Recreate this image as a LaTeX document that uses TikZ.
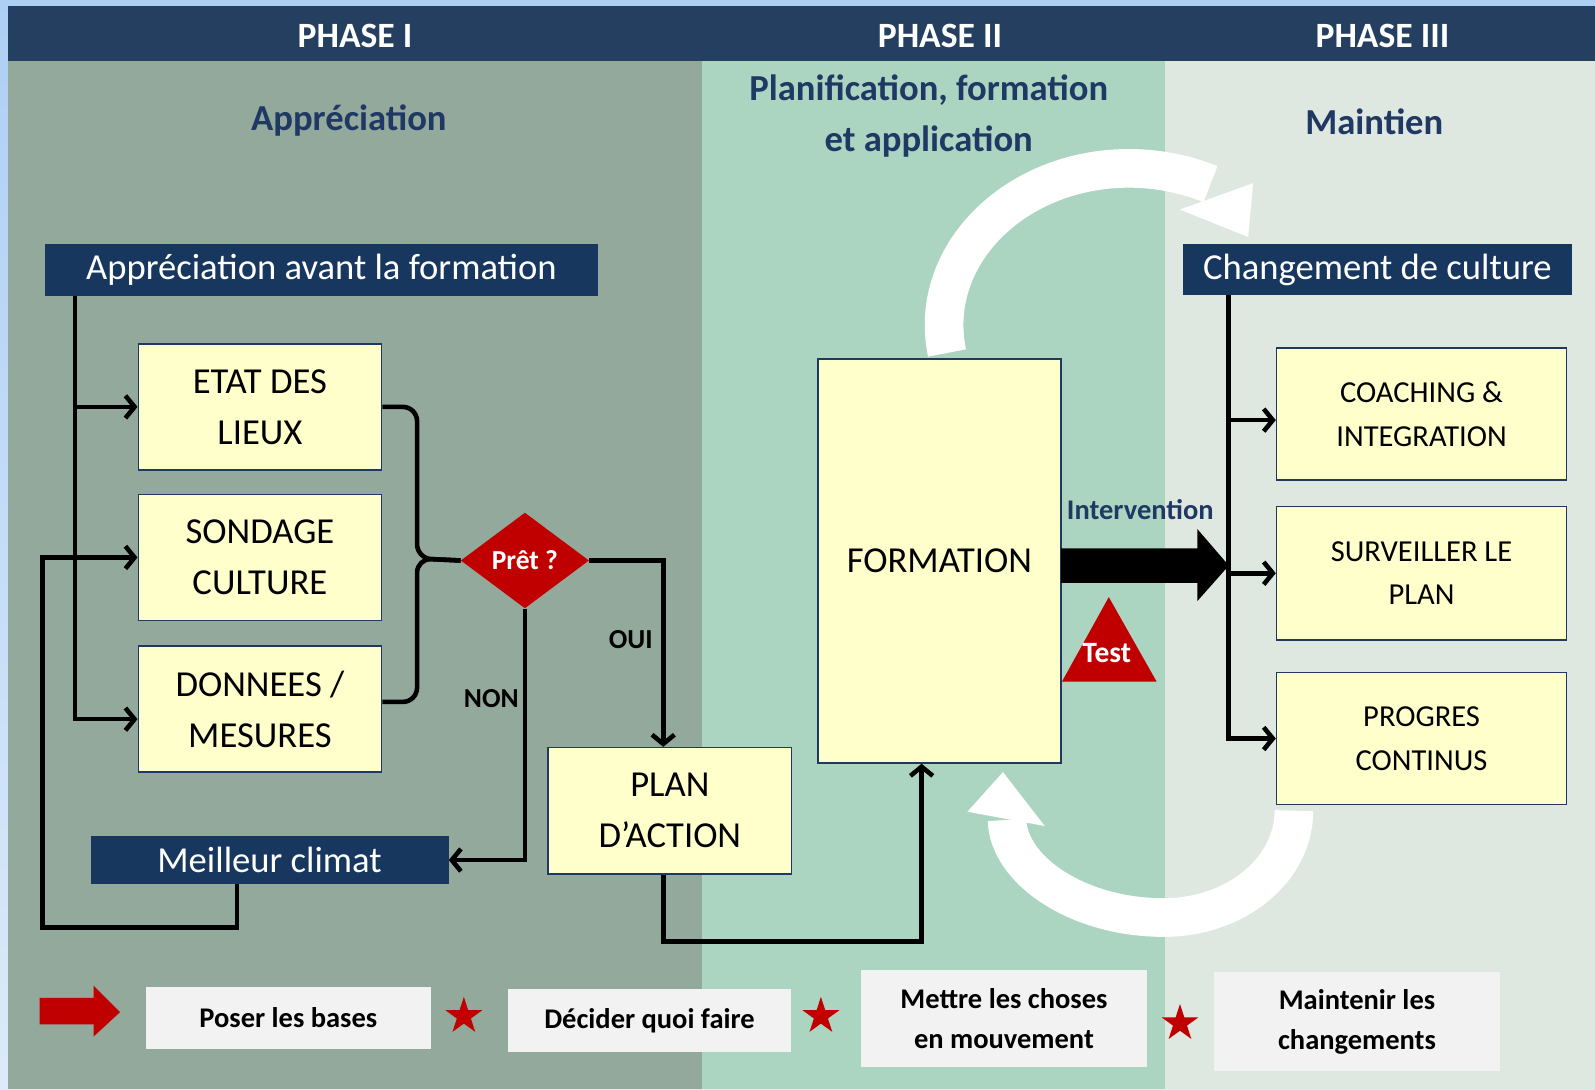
\documentclass[tikz,border=0pt]{standalone}
\usepackage{fontspec}
\setmainfont{Carlito}
\usetikzlibrary{arrows.meta,shapes.geometric,calc}
\definecolor{skyedge}{HTML}{AECFF4}
\definecolor{skyedgeb}{HTML}{DCEAF9}
\definecolor{headbar}{HTML}{243F60}
\definecolor{phaseone}{HTML}{92A99B}
\definecolor{phasetwo}{HTML}{ABD5C0}
\definecolor{phasethree}{HTML}{DEE8E0}
\definecolor{banner}{HTML}{17375E}
\definecolor{subtitle}{HTML}{1F3864}
\definecolor{boxfill}{HTML}{FFFFCC}
\definecolor{boxline}{HTML}{1F3864}
\definecolor{alert}{HTML}{C00000}
\definecolor{legendfill}{HTML}{F2F2F2}
\newcommand{\fsz}[2]{\fontsize{#1}{#2}\selectfont}
\begin{document}
\begin{tikzpicture}[x=1pt,y=-1pt,
  ybox/.style={draw=boxline, line width=1.6pt, fill=boxfill, inner sep=0pt, align=center, text=black},
  bannerbox/.style={fill=banner, inner sep=0pt, text=white, font=\fsz{36}{40}},
  legendbox/.style={fill=legendfill, inner sep=0pt, align=center, font=\bfseries\fsz{28}{40}},
  conn/.style={line width=4.5pt, draw=black},
  arr/.style={conn, -{Straight Barb[length=9pt,width=22pt]}},
  redstar/.style={star, star points=5, star point ratio=2.618, fill=alert, draw=none, inner sep=0pt, minimum size=38pt},
  whiteband/.style={draw=white, line width=38pt},
  headtext/.style={text=white, font=\bfseries\fsz{35}{40}},
  subtext/.style={text=subtitle, font=\bfseries\fsz{36}{51}, align=center},
]
\useasboundingbox (0,0) rectangle (1568,1071);
% backgrounds
\fill[top color=skyedge, bottom color=skyedgeb] (0,0) rectangle (1568,1071);
\fill[headbar] (7.5,5.5) rectangle (1568,60);
\fill[phaseone] (7.5,60) rectangle (690,1071);
\fill[phasetwo] (690,60) rectangle (1145,1071);
\fill[phasethree] (1145,60) rectangle (1568,1071);

% headers
\node[headtext] (ph1) at (349,35) {PHASE I};
\node[headtext] (ph2) at (924,35) {PHASE II};
\node[headtext] (ph3) at (1359,35) {PHASE III};
\node[subtext] (sub1) at (343,118) {Appréciation};
\node[subtext] (sub2) at (913,114) {Planification, formation\\et application};
\node[subtext] (sub3) at (1351,120) {Maintien};

% white cycle arrows
\draw[whiteband] (931,347) .. controls (911,252) and (997,165.5) .. (1110,165.5) .. controls (1138,165.5) and (1165,171) .. (1190,181);
\fill[white] (1160,206) -- (1232,180) -- (1227,233) -- cycle;
\draw[whiteband] (1272,797) .. controls (1272,855) and (1215,902) .. (1144,902) .. controls (1059,902) and (991,855) .. (990,806);
\fill[white] (951,798) -- (986,759) -- (1027,812) -- cycle;

% banners
\node[bannerbox, minimum width=544pt, minimum height=51pt] (ban1) at (316,265.5) {Appréciation avant la formation};
\node[bannerbox, minimum width=382pt, minimum height=50pt] (ban2) at (1354,265) {Changement de culture};
\node[bannerbox, minimum width=352pt, minimum height=47pt] (ban3) at (265,845.5) {Meilleur climat};

% boxes
\node[ybox, minimum width=239pt, minimum height=124pt, font=\fsz{36}{50}] (etat) at (255.5,400) {ETAT DES\\LIEUX};
\node[ybox, minimum width=239pt, minimum height=124pt, font=\fsz{36}{50}] (sond) at (255.5,548) {SONDAGE\\CULTURE};
\node[ybox, minimum width=239pt, minimum height=124pt, font=\fsz{36}{50}] (donn) at (255.5,697) {DONNEES /\\MESURES};
\node[ybox, minimum width=239pt, minimum height=124pt, font=\fsz{36}{50}] (plan) at (658.5,797) {PLAN\\D’ACTION};
\node[ybox, minimum width=239pt, minimum height=397pt, font=\fsz{36}{40}] (form) at (923.5,551.5) {FORMATION};
\node[ybox, minimum width=285pt, minimum height=130pt, font=\fsz{30}{43}] (coach) at (1397.5,407) {COACHING \&\\INTEGRATION};
\node[ybox, minimum width=285pt, minimum height=131pt, font=\fsz{30}{43}] (surv) at (1397.5,563.5) {SURVEILLER LE\\PLAN};
\node[ybox, minimum width=285pt, minimum height=130pt, font=\fsz{30}{43}] (prog) at (1397.5,726) {PROGRES\\CONTINUS};

% decision
\node[diamond, fill=alert, minimum width=126pt, minimum height=94pt, inner sep=0pt, text=white, font=\bfseries\fsz{27}{30}] (pret) at (516,551) {Prêt ?};
\node[font=\bfseries\fsz{27}{30}] (oui) at (620,629) {OUI};
\node[font=\bfseries\fsz{27}{30}] (non) at (483,687) {NON};

% test & intervention
\fill[alert] (1044,670) -- (1090,587) -- (1137,670) -- cycle;
\node[text=white, font=\bfseries\fsz{29}{32}] (test) at (1088,642) {Test};
\fill[black] (1043,539) -- (1177,539) -- (1177,520) -- (1208,556) -- (1177,591) -- (1177,573) -- (1043,573) -- cycle;
\node[text=subtitle, font=\bfseries\fsz{28}{32}] (interv) at (1121,501) {Intervention};

% connectors left
\coordinate (tl) at ($(ban1.south west)+(30,0)$);
\draw[arr] (tl) |- ($(donn.west)+(0,10)$);
\draw[arr] (tl |- etat.west) -- (etat.west);
\coordinate (lp) at (42,912);
\draw[arr] ($(ban3.south west)+(144,0)$) |- (lp) |- (sond.west);
\draw[conn, rounded corners=14pt] (etat.east) -- (410,400) -- (410,549) -- (pret.west);
\draw[conn, rounded corners=14pt] ($(donn.east)+(0,-7)$) -- (410,690) -- (410,549) -- (pret.west);
\draw[arr] (pret.east) -| ($(plan.north)+(-6.5,0)$);
\draw[arr] (pret.south) |- (ban3.east);
\draw[arr] ($(plan.south)+(-6.5,0)$) -- ++(0,66) -| ($(form.south)+(-17.5,0)$);

% connectors right
\coordinate (tr) at ($(ban2.south west)+(45,0)$);
\draw[arr] (tr) |- (prog.west);
\draw[arr] ($(tr |- coach.west)+(0,6)$) -- ($(coach.west)+(0,6)$);
\draw[arr] (tr |- surv.west) -- (surv.west);

% legend
\fill[alert] (39,981) -- (92,981) -- (92,969) -- (118,995) -- (92,1019) -- (92,1007) -- (39,1007) -- cycle;
\node[legendbox, minimum width=280pt, minimum height=61pt] (lg1) at (283.5,1000.5) {Poser les bases};
\node[legendbox, minimum width=279pt, minimum height=62pt] (lg2) at (638.5,1003) {Décider quoi faire};
\node[legendbox, minimum width=282pt, minimum height=95pt] (lg3) at (987,1001.5) {Mettre les choses\\en mouvement};
\node[legendbox, minimum width=282pt, minimum height=97pt] (lg4) at (1334,1004.5) {Maintenir les\\changements};
\node[redstar] (st1) at (456,999) {};
\node[redstar] (st2) at (807,999) {};
\node[redstar] (st3) at (1160,1006) {};
\end{tikzpicture}
\end{document}
